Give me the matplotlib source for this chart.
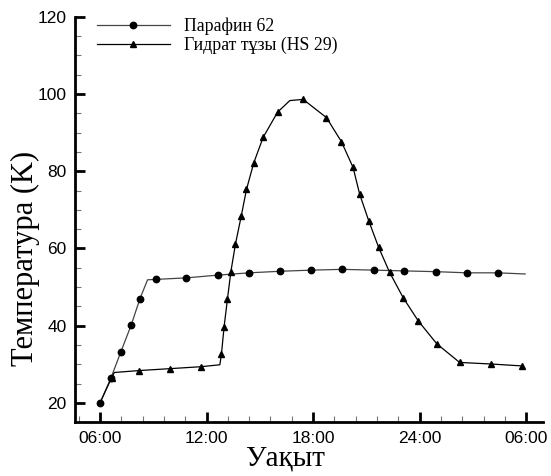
import matplotlib.pyplot as plt
from matplotlib.ticker import MultipleLocator, FixedLocator

# Paraffin 62 (hours, temperature)
paraffin_hours = [6.0, 6.62, 7.18, 7.76, 8.25, 8.68, 9.15, 10.87, 12.62, 14.40,
                  16.12, 17.91, 19.65, 21.41, 23.14, 24.94, 26.66, 28.40, 29.94]
paraffin_temp = [20.0, 26.5, 33.3, 40.2, 47.0, 51.9, 52.0, 52.4, 53.1, 53.7,
                 54.1, 54.4, 54.6, 54.4, 54.2, 54.0, 53.7, 53.7, 53.4]
paraffin_marks = [0, 1, 2, 3, 4, 6, 7, 8, 9, 10, 11, 12, 13, 14, 15, 16, 17]

# Hydrate salt HS 29
hydrate_hours = [6.0, 6.66, 6.81, 8.21, 9.97, 11.70, 12.75, 12.84, 12.99, 13.18,
                 13.37, 13.63, 13.95, 14.25, 14.66, 15.19, 16.00, 16.69, 17.44, 18.75,
                 19.59, 20.25, 20.62, 21.13, 21.69, 22.31, 23.08, 23.93, 24.97, 26.25,
                 28.00, 29.75]
hydrate_temp = [20.0, 26.6, 27.9, 28.4, 28.9, 29.4, 29.9, 32.7, 39.8, 47.0,
                54.0, 61.2, 68.3, 75.3, 82.2, 88.8, 95.3, 98.3, 98.6, 93.9,
                87.7, 81.0, 74.1, 67.2, 60.3, 53.8, 47.2, 41.2, 35.3, 30.5,
                30.1, 29.6]
hydrate_marks = [1, 3, 4, 5, 7, 8, 9, 10, 11, 12, 13, 14, 15, 16, 18, 19,
                 20, 21, 22, 23, 24, 25, 26, 27, 28, 29, 30, 31]

xticks = [6, 12, 18, 24, 30]
xtick_labels = ['06:00', '12:00', '18:00', '24:00', '06:00']
yticks = [20, 40, 60, 80, 100, 120]

serif = 'Liberation Serif'
sans = 'Liberation Sans'

fig = plt.figure(figsize=(5.51, 4.76), dpi=100)
ax = fig.add_axes([0.136, 0.1128, 0.849, 0.852])

ax.plot(hydrate_hours, hydrate_temp, color='black', lw=0.9,
        marker='^', markersize=4.8, markevery=hydrate_marks,
        label='Гидрат тұзы (HS 29)', zorder=3)
ax.plot(paraffin_hours, paraffin_temp, color='#444444', lw=0.9,
        marker='o', markersize=4.6, markerfacecolor='black', markeredgecolor='black',
        markevery=paraffin_marks, label='Парафин 62', zorder=2)

ax.set_xlim(4.59, 30.93)
ax.set_ylim(15, 120)

ax.xaxis.set_major_locator(FixedLocator(xticks))
ax.set_xticklabels(xtick_labels)
ax.xaxis.set_minor_locator(MultipleLocator(1.2, offset=0))
ax.yaxis.set_major_locator(FixedLocator(yticks))
ax.yaxis.set_minor_locator(MultipleLocator(5))

for s in ['top', 'right']:
    ax.spines[s].set_visible(False)
for s in ['left', 'bottom']:
    ax.spines[s].set_linewidth(2)

ax.tick_params(which='major', direction='in', length=7, width=2, pad=6,
               labelsize=12.5)
ax.tick_params(which='minor', direction='in', length=4, width=0.8, color='#777777')
for lab in ax.get_xticklabels() + ax.get_yticklabels():
    lab.set_fontfamily(sans)

ax.set_xlabel('Уақыт', fontsize=21, fontfamily=serif)
ax.set_ylabel('Температура (K)', fontsize=22, fontfamily=serif)
ax.xaxis.set_label_coords(0.449, -0.058)
ax.yaxis.set_label_coords(-0.075, 0.405)

handles, labels = ax.get_legend_handles_labels()
ax.legend(handles[::-1], labels[::-1], loc='upper left', bbox_to_anchor=(0.047, 0.998),
          frameon=False, numpoints=1, handlelength=4.1, handletextpad=0.8,
          borderpad=0, borderaxespad=0, labelspacing=0.1,
          prop={'family': serif, 'size': 12.8})

fig.savefig('out.png', dpi=100)
